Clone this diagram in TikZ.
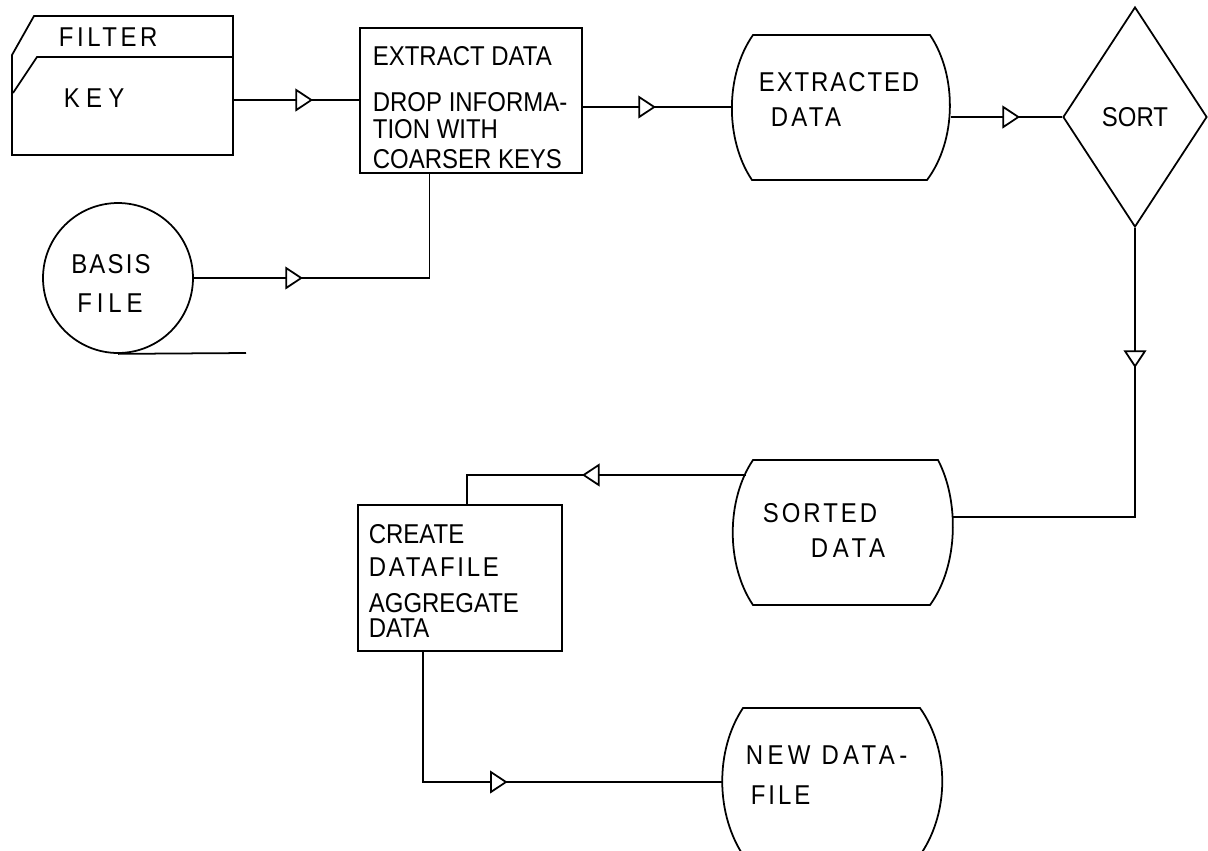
\documentclass[tikz,border=0pt]{standalone}
\usepackage{fontspec}
\setmainfont{Liberation Sans}[FakeStretch=0.88]
\usetikzlibrary{shapes.geometric,arrows.meta,decorations.markings,calc}
\newcommand{\handfont}{\fontsize{15.5}{18}\selectfont}
\begin{document}
\begin{tikzpicture}[x=0.02cm,y=-0.02cm, line width=1pt,
  txt/.style={font={\handfont\addfontfeature{LetterSpace=#1}}, inner sep=0pt, text=black, anchor=west},
  txt/.default=0,
  procbox/.style={draw, rectangle, inner sep=0pt},
  flowarrow/.style={decoration={markings, mark=at position #1 with {\arrow{Triangle[fill=white,length=10pt,width=13pt,line width=1pt]}}}, postaction={decorate}},
]
\useasboundingbox (0,0) rectangle (1208,850);
\clip (0,0) rectangle (1208,850);

% filter / key card
\draw (12,155) -- (12,55) -- (34,16) -- (233,16) -- (233,155) -- cycle;
\draw (13,93) -- (37,57) -- (233,57);
\node[txt=13] (filter) at (58,37) {FILTER};
\node[txt=23] (key) at (63,98) {KEY};
\coordinate (keyR) at (233,100);

% extract box
\node[procbox, minimum width=4.44cm, minimum height=2.9cm] (extract) at (471,100.5) {};
\node[txt] (ex1) at (372,56) {EXTRACT DATA};
\node[txt] (ex2) at (372,102.5) {DROP INFORMA-};
\node[txt] (ex3) at (372,129) {TION WITH};
\node[txt] (ex4) at (372,159) {COARSER KEYS};

% extracted data
\draw (753,35) -- (930,35) .. controls (957,75) and (957,140) .. (927,180) -- (752,180) .. controls (725,140) and (725,75) .. (753,35) -- cycle;
\node[txt=7] (xd1) at (758,82) {EXTRACTED};
\node[txt=12] (xd2) at (770,117) {DATA};
\coordinate (xdL) at (732,107);
\coordinate (xdR) at (951,117);

% sort
\node[draw, diamond, minimum width=2.88cm, minimum height=4.4cm, inner sep=0pt, font=\handfont] (sort) at (1135,117) {SORT};

% basis file
\node[draw, circle, minimum size=3cm, inner sep=0pt] (basis) at (118,278) {};
\node[txt=8, anchor=center] (b1) at (111,264) {BASIS};
\node[txt=18, anchor=center] (b2) at (110,303) {FILE};
\coordinate (tailEnd) at (246,353);
\draw (basis.south) -- (tailEnd);

% sorted data
\draw (753,460) -- (938,460) .. controls (959,500) and (959,565) .. (930,605) -- (753,605) .. controls (726,565) and (726,500) .. (753,460) -- cycle;
\node[txt=11] (sd1) at (762,513) {SORTED};
\node[txt=17] (sd2) at (810,548) {DATA};
\coordinate (sdL) at (746,475);
\coordinate (sdR) at (953,517);

% create box
\node[procbox, minimum width=4.08cm, minimum height=2.92cm] (create) at (460,578) {};
\node[txt] (c1) at (368,534) {CREATE};
\node[txt=10] (c2) at (368,567) {DATAFILE};
\node[txt] (c3) at (368,603) {AGGREGATE};
\node[txt] (c4) at (368,628) {DATA};

% new data file
\draw (743,708) -- (920,708) .. controls (950,750) and (950,815) .. (918,858) -- (745,858) .. controls (715,815) and (715,750) .. (743,708) -- cycle;
\node[txt=16] (nd1) at (745,755) {NEW DATA-};
\node[txt=11] (nd2) at (750,795) {FILE};
\coordinate (ndL) at (722,782);

% connectors
\draw[flowarrow=1.6cm] (keyR) -- (extract.west |- keyR);
\draw[flowarrow=1.46cm] (extract.east |- xdL) -- (xdL);
\draw[flowarrow=1.38cm] (xdR) -- (sort.west);
\draw[flowarrow=2.8cm] (sort.south) |- (sdR);
\draw[flowarrow=3.28cm] (sdL) -| ($(create.north west)!0.534!(create.north east)$);
\draw[flowarrow=4.3cm] ($(create.south west)!0.319!(create.south east)$) |- (ndL);
\draw[flowarrow=2.18cm] (basis.east) -| ($(extract.south west)!0.315!(extract.south east)$);
\end{tikzpicture}
\end{document}
